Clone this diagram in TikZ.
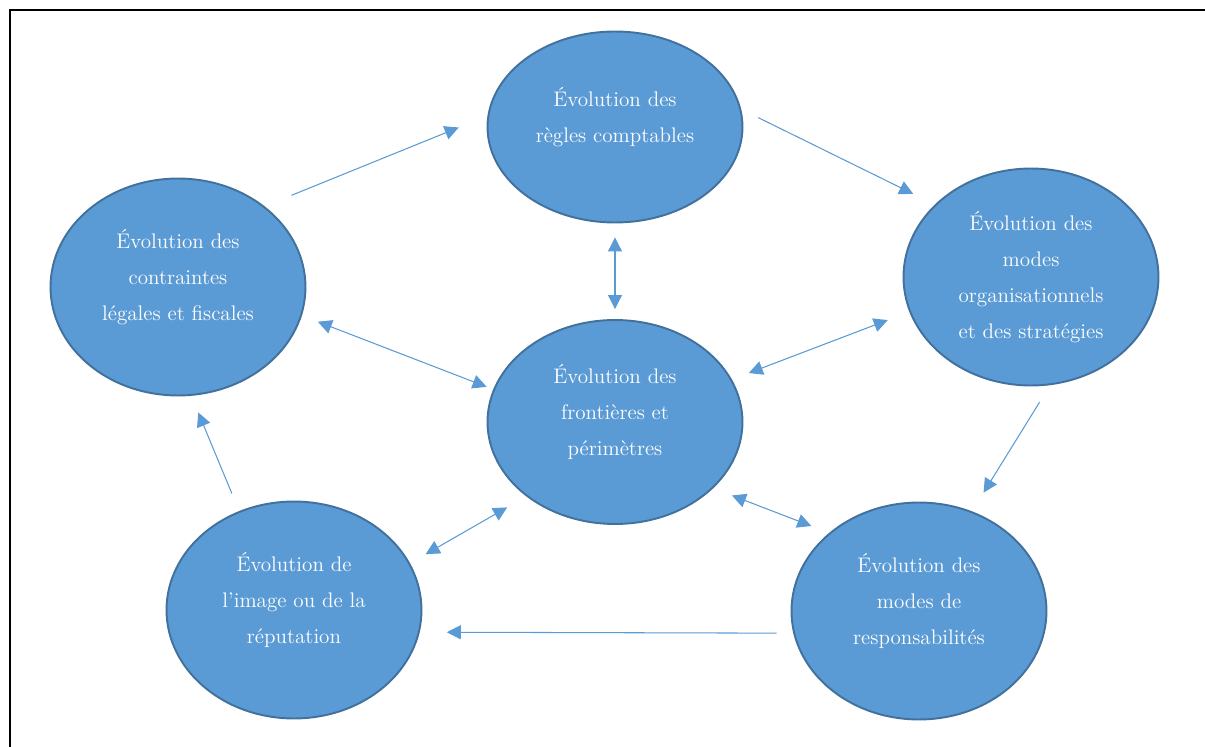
\documentclass[tikz,border=0pt]{standalone}
\usepackage{tikz}
\usetikzlibrary{arrows.meta, shapes.geometric}
\definecolor{sblue}{HTML}{5B9BD5}
\definecolor{sborder}{HTML}{41719C}
\tikzset{
  bubble/.style={
    ellipse, draw=sborder, fill=sblue, line width=1.1pt,
    minimum width=5.1cm, minimum height=#1, inner sep=0pt
  },
  bubble/.default=4.34cm,
  txt/.style={
    text=white, align=center, inner sep=0pt,
    font=\fontsize{12}{20.4}\selectfont
  },
  arr/.style={draw=sblue, line width=0.6pt, -{Triangle[length=0.28cm,width=0.28cm]}},
  darr/.style={draw=sblue, line width=0.6pt,
    {Triangle[length=0.28cm,width=0.28cm]}-{Triangle[length=0.28cm,width=0.28cm]}}
}
\begin{document}
\begin{tikzpicture}[x=0.02cm, y=-0.02cm]
  \useasboundingbox (0,0) rectangle (1205,747);
  \draw[line width=1.1pt] (10,747) -- (10,10) -- (1205,10);
  % ellipses, centres in px of the reference
  \node[bubble=3.82cm] (regles) at (615,127) {};
  \node[bubble] (contraintes) at (178,287) {};
  \node[bubble] (modesorg) at (1031,277) {};
  \node[bubble=4.08cm] (frontieres) at (615,422) {};
  \node[bubble] (image) at (294,610) {};
  \node[bubble] (respons) at (919,611) {};
  \node[txt] (regles-t) at ([yshift=0.2cm]regles.center) {Évolution des\\règles comptables};
  \node[txt] (contraintes-t) at ([yshift=0.2cm]contraintes.center) {Évolution des\\contraintes\\légales et fiscales};
  \node[txt] (modesorg-t) at (modesorg.center) {Évolution des\\modes\\organisationnels\\et des stratégies};
  \node[txt] (frontieres-t) at ([yshift=0.2cm]frontieres.center) {Évolution des\\frontières et\\périmètres};
  \node[txt] (image-t) at ([yshift=0.2cm]image.center) {Évolution de\\l'image ou de la\\réputation};
  \node[txt] (respons-t) at ([yshift=0.2cm]respons.center) {Évolution des\\modes de\\responsabilités};
  % outer cycle
  \draw[arr, shorten <=0.58cm, shorten >=0.62cm] (contraintes.43.8) -- (regles.175.9);
  \draw[arr, shorten <=0.38cm, shorten >=0.48cm] (regles.8) -- (modesorg.143.8);
  \draw[arr, shorten <=0.40cm, shorten >=0.44cm] (modesorg.-80.2) -- (respons.62.1);
  \draw[arr, shorten <=0.33cm, shorten >=0.54cm] (respons.190) -- (image.-10.4);
  \draw[arr, shorten <=0.38cm, shorten >=0.36cm] (image.119.5) -- (contraintes.-83.6);
  % links with the centre
  \draw[darr, shorten <=0.28cm, shorten >=0.20cm] (regles.-90) -- (frontieres.90);
  \draw[darr, shorten <=0.34cm, shorten >=0.14cm] (contraintes.-13.7) -- (frontieres.165.2);
  \draw[darr, shorten <=0.46cm, shorten >=0.36cm] (modesorg.-164) -- (frontieres.20.4);
  \draw[darr, shorten <=0.38cm, shorten >=0.40cm] (respons.139.5) -- (frontieres.-34.2);
  \draw[darr, shorten <=0.36cm, shorten >=0.44cm] (image.22.2) -- (frontieres.-140.2);
\end{tikzpicture}
\end{document}
